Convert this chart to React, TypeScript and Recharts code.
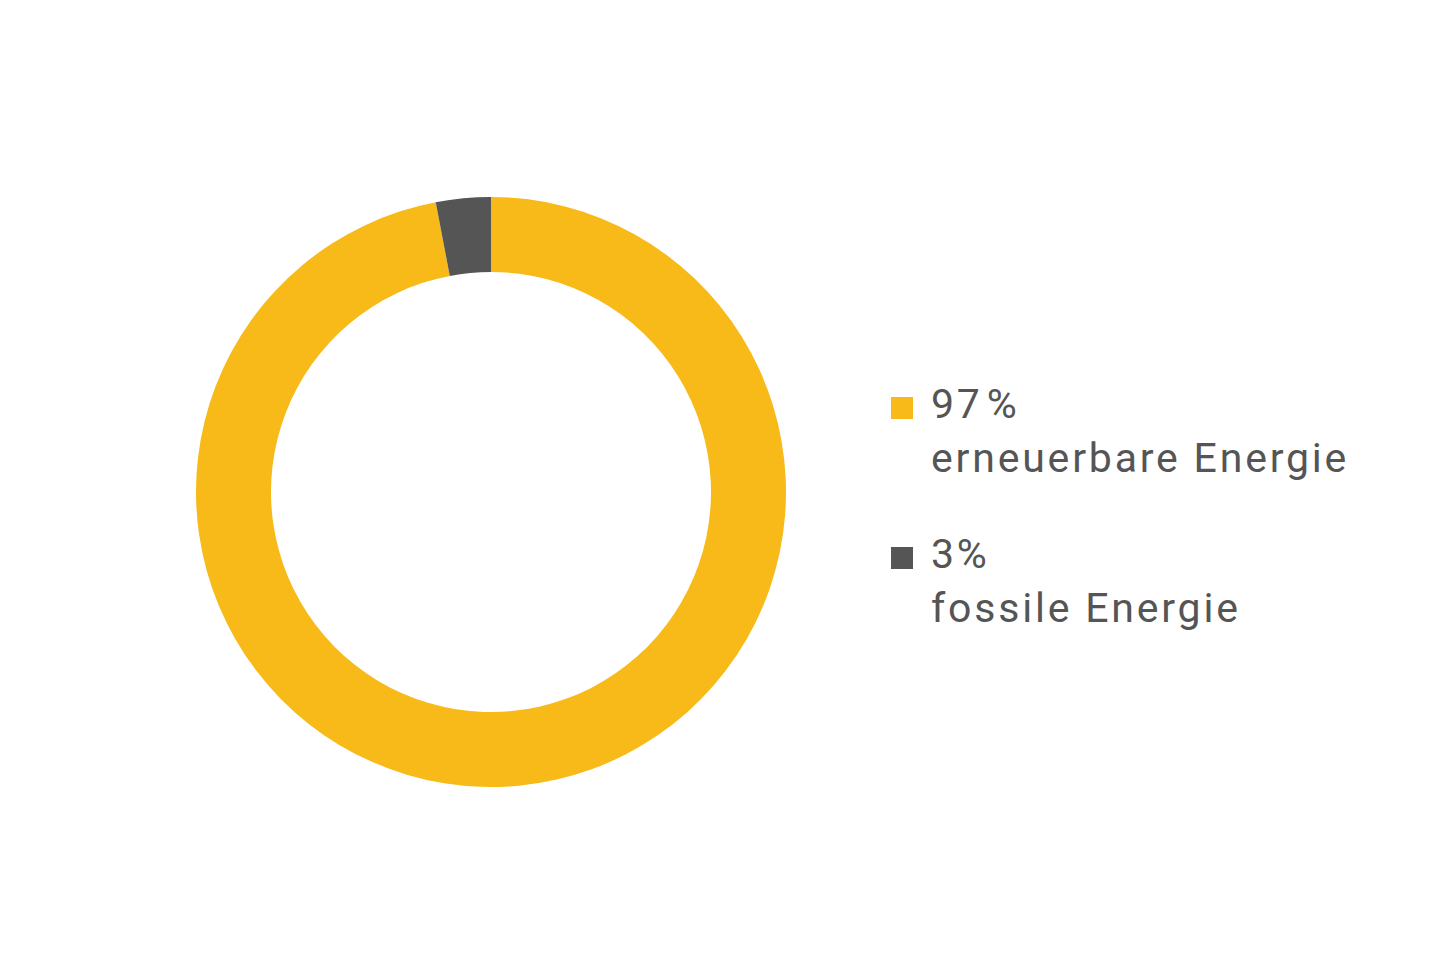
import React from "react";
import { PieChart, Pie, Cell, Legend } from "recharts";

const labels = ["erneuerbare Energie", "fossile Energie"];
const shares = [97, 3];
const colors = ["#F7BA18", "#555555"];

const data = labels.map((name, i) => ({ name, value: shares[i] }));

const textColor = "#555555";

function EnergyLegend() {
  return (
    <div style={{ fontFamily: "Roboto, 'DejaVu Sans', sans-serif", color: textColor }}>
      {data.map((d, i) => (
        <div key={d.name} style={{ position: "relative", paddingLeft: 40, marginBottom: i === 0 ? 42 : 0 }}>
          <div
            style={{
              position: "absolute",
              left: 0,
              top: 20,
              width: 22,
              height: 22,
              background: colors[i],
            }}
          />
          <div style={{ fontSize: 41, lineHeight: "54px", letterSpacing: 2.8 }}>
            {d.value}
            <span style={{ marginLeft: i === 0 ? 4 : 0 }}>%</span>
          </div>
          <div style={{ fontSize: 41, lineHeight: "54px", letterSpacing: 2.8 }}>{d.name}</div>
        </div>
      ))}
    </div>
  );
}

export default function App() {
  return (
    <div style={{ position: "absolute", left: 0, top: 0, background: "#fff" }}>
      <PieChart width={1450} height={972}>
        <Pie
          data={data}
          dataKey="value"
          nameKey="name"
          cx={486}
          cy={487}
          innerRadius={220}
          outerRadius={295}
          startAngle={90}
          endAngle={-270}
          stroke="none"
          isAnimationActive={false}
        >
          {data.map((d, i) => (
            <Cell key={d.name} fill={colors[i]} />
          ))}
        </Pie>
        <Legend
          content={<EnergyLegend />}
          wrapperStyle={{ left: 891, top: 377, width: 540 }}
        />
      </PieChart>
    </div>
  );
}
